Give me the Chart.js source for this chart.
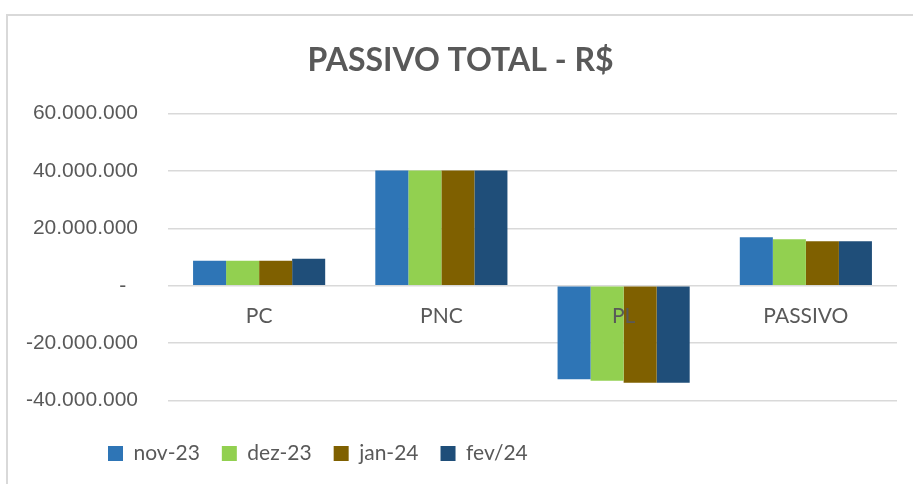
<!DOCTYPE html>
<html>
<head>
<meta charset="utf-8">
<script src="https://cdn.jsdelivr.net/npm/chart.js@4"></script>
<style>
  html, body { margin: 0; padding: 0; background: #fff; }
  #frame {
    position: absolute; left: 6px; top: 14px; width: 920px; height: 480px;
    border-top: 2px solid #d9d9d9; border-left: 2px solid #d9d9d9;
  }
  #wrap { position: absolute; left: 0; top: 0; width: 913px; height: 484px; }
</style>
</head>
<body>
<div id="frame"></div>
<div id="wrap"><canvas id="passivoChart"></canvas></div>
<script>
// data
const categories = ['PC', 'PNC', 'PL', 'PASSIVO'];
const seriesNames = ['nov-23', 'dez-23', 'jan-24', 'fev/24'];
const nov23 = [8700000, 40100000, -32600000, 16900000];
const dez23 = [8700000, 40100000, -33100000, 16200000];
const jan24 = [8700000, 40100000, -33800000, 15500000];
const fev24 = [9400000, 40100000, -33800000, 15500000];
const yTicks = [-40000000, -20000000, 0, 20000000, 40000000, 60000000];

const colors = ['#2E75B6', '#92D050', '#7F6000', '#1F4E79'];
const textColor = '#595959';

function formatBR(v) {
  if (v === 0) return '-  ';
  const s = Math.abs(v).toFixed(0).replace(/\B(?=(\d{3})+(?!\d))/g, '.');
  return (v < 0 ? '-' : '') + s;
}

// move the legend to the right so it starts under the plot like in Excel
const legendShift = {
  id: 'legendShift',
  afterLayout(chart) {
    chart.legend.left += 62;
    chart.legend.right += 62;
  }
};

const ctx = document.getElementById('passivoChart').getContext('2d');
new Chart(ctx, {
  type: 'bar',
  data: {
    labels: categories,
    datasets: [nov23, dez23, jan24, fev24].map((vals, i) => ({
      label: seriesNames[i],
      data: vals,
      backgroundColor: colors[i],
      borderWidth: 0,
      categoryPercentage: 0.725,
      barPercentage: 1
    }))
  },
  plugins: [legendShift],
  options: {
    responsive: true,
    maintainAspectRatio: false,
    animation: false,
    layout: { padding: { left: 24, right: 16, top: 0, bottom: 10 } },
    plugins: {
      title: {
        display: true,
        text: 'PASSIVO TOTAL - R$',
        color: textColor,
        font: { family: 'Lato, sans-serif', size: 32, weight: 'bold' },
        padding: { top: 41, bottom: 34 }
      },
      legend: {
        position: 'bottom',
        align: 'start',
        title: { display: true, text: '', font: { size: 17 }, padding: 0 },
        labels: {
          boxWidth: 15,
          boxHeight: 15,
          padding: 22,
          color: textColor,
          font: { family: 'Lato, sans-serif', size: 21 }
        }
      },
      tooltip: { enabled: false }
    },
    scales: {
      x: {
        position: { y: 0 },
        grid: { display: false, drawTicks: false },
        border: { display: false },
        ticks: {
          z: 1,   // category labels sit on top of the bars (PL)
          padding: 18,
          color: textColor,
          font: { family: 'Lato, sans-serif', size: 21 }
        }
      },
      y: {
        min: -40000000,
        max: 60000000,
        afterFit(scale) { scale.width = 144; },
        afterBuildTicks(scale) { scale.ticks = yTicks.map(v => ({ value: v })); },
        grid: { color: '#d9d9d9', lineWidth: 1.5, drawTicks: false },
        border: { display: false },
        ticks: {
          padding: 30,
          color: textColor,
          font: { family: '"Liberation Sans", Arial, sans-serif', size: 21 },
          callback: v => formatBR(v)
        }
      }
    }
  }
});
</script>
</body>
</html>
